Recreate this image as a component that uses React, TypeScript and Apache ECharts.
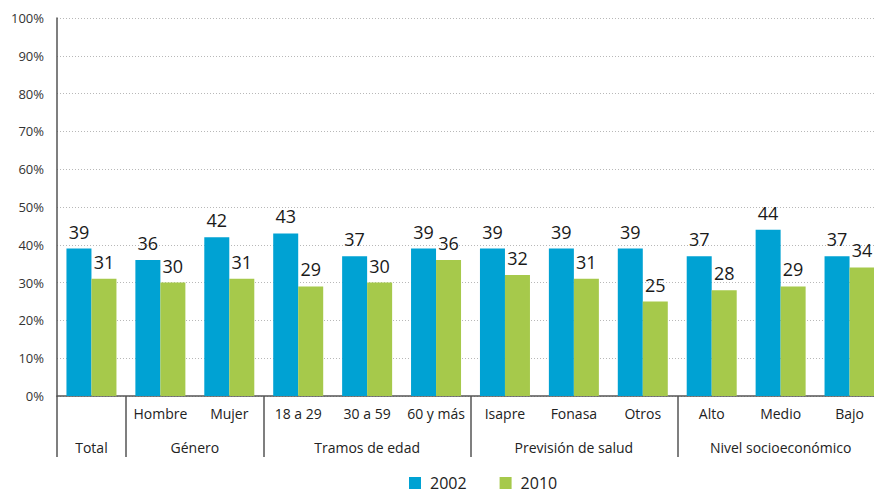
import React, { useEffect, useRef } from "react";
import * as echarts from "echarts";

const categories = ["Total", "Hombre", "Mujer", "18 a 29", "30 a 59", "60 y más", "Isapre", "Fonasa", "Otros", "Alto", "Medio", "Bajo"];
const firstRowLabels = ["", "Hombre", "Mujer", "18 a 29", "30 a 59", "60 y más", "Isapre", "Fonasa", "Otros", "Alto", "Medio", "Bajo"];
const groupNames = ["Total", "Género", "Tramos de edad", "Previsión de salud", "Nivel socioeconómico"];
const groupCenters = [0.5, 2, 4.5, 7.5, 10.5];
const groupBounds = [0, 1, 3, 6, 9];
const values2002 = [39, 36, 42, 43, 37, 39, 39, 39, 39, 37, 44, 37];
const values2010 = [31, 30, 31, 29, 30, 36, 32, 31, 25, 28, 29, 34];
const yTicks = [0, 10, 20, 30, 40, 50, 60, 70, 80, 90, 100];

const FONT = "'Open Sans', 'Noto Sans', sans-serif";
const BLUE = "#00a2d3";
const GREEN = "#a6c94b";
const AXIS = "#555555";

export default function App() {
  const ref = useRef<HTMLDivElement>(null);

  useEffect(() => {
    if (!ref.current) return;
    const chart = echarts.init(ref.current, undefined, { renderer: "svg" });

    const valueLabel = {
      show: true,
      position: "top" as const,
      distance: 8,
      color: "#1a1a1a",
      fontSize: 18,
      fontFamily: FONT,
    };

    chart.setOption({
      animation: false,
      backgroundColor: "#ffffff",
      textStyle: { fontFamily: FONT },
      grid: { left: 57, right: 0, top: 18, height: 378, containLabel: false },
      legend: {
        data: ["2002", "2010"],
        left: 404,
        top: 470,
        itemWidth: 12,
        itemHeight: 12,
        itemGap: 33,
        icon: "rect",
        textStyle: { fontSize: 16, color: "#222", fontFamily: FONT, padding: [0, 0, 0, 4] },
      },
      xAxis: [
        {
          type: "category",
          data: categories,
          position: "bottom",
          axisLine: { show: true, lineStyle: { color: AXIS, width: 1.5 } },
          axisTick: { show: false },
          axisLabel: {
            margin: 10,
            fontSize: 14,
            color: "#222",
            fontFamily: FONT,
            interval: 0,
            formatter: (_v: string, i: number) => firstRowLabels[i],
          },
          splitLine: { show: false },
        },
        {
          type: "value",
          min: 0,
          max: 12,
          position: "bottom",
          axisLine: { show: false },
          splitLine: { show: false },
          axisTick: {
            show: true,
            length: 61,
            customValues: groupBounds,
            lineStyle: { color: AXIS, width: 1.5 },
          },
          axisLabel: {
            show: true,
            margin: 44,
            fontSize: 14,
            color: "#222",
            fontFamily: FONT,
            customValues: groupCenters,
            formatter: (v: number) => {
              const idx = groupCenters.indexOf(v);
              return idx >= 0 ? groupNames[idx] : "";
            },
          },
        },
      ],
      yAxis: {
        type: "value",
        min: yTicks[0],
        max: yTicks[yTicks.length - 1],
        interval: 10,
        axisLine: { show: true, lineStyle: { color: AXIS, width: 1.5 } },
        axisTick: { show: false },
        axisLabel: {
          formatter: "{value}%",
          fontSize: 13,
          color: "#333",
          margin: 13,
          fontFamily: FONT,
        },
        splitLine: { show: true, lineStyle: { color: "#b8b8b8", type: [1, 2], width: 1 } },
      },
      series: [
        {
          name: "2002",
          type: "bar",
          xAxisIndex: 0,
          data: values2002,
          barWidth: 25,
          barGap: "0%",
          itemStyle: { color: BLUE },
          label: valueLabel,
        },
        {
          name: "2010",
          type: "bar",
          xAxisIndex: 0,
          data: values2010,
          barWidth: 25,
          barGap: "0%",
          itemStyle: { color: GREEN },
          label: valueLabel,
        },
      ],
    });

    return () => chart.dispose();
  }, []);

  // The chart canvas is a little wider than the visible frame, so the last bar is cropped at the right edge.
  return (
    <div style={{ position: "absolute", left: 0, top: 0, width: 874, height: 492, overflow: "hidden", background: "#fff" }}>
      <div ref={ref} style={{ position: "absolute", left: 0, top: 0, width: 884, height: 492 }} />
    </div>
  );
}
